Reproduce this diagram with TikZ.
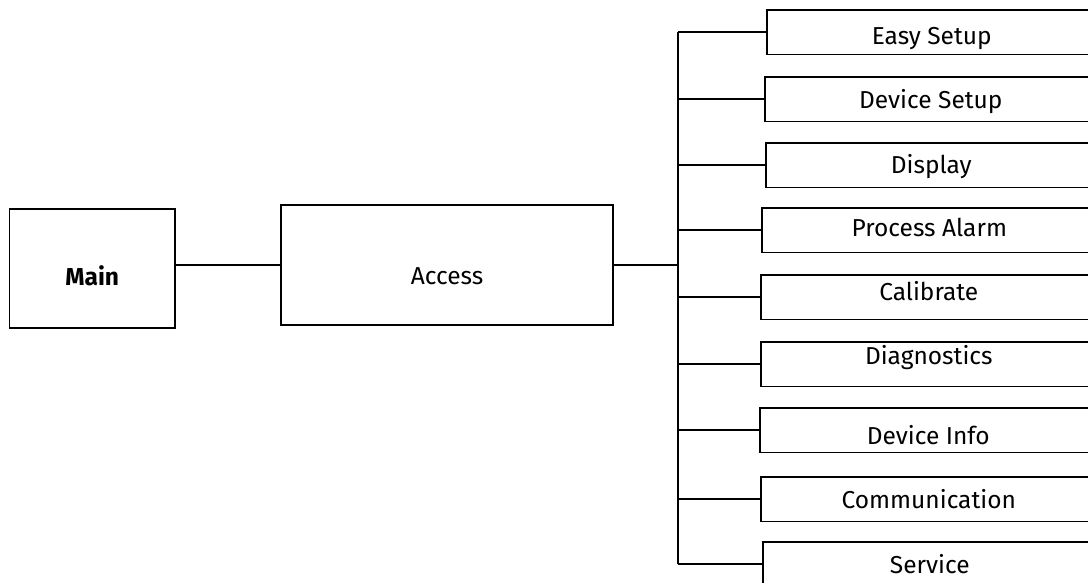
\documentclass[tikz,border=0pt]{standalone}
\usepackage{fontspec}
\setmainfont{Fira Sans}
\usetikzlibrary{calc}

\begin{document}
\begin{tikzpicture}[x=1pt, y=-1pt, line cap=butt, line join=miter]
  \tikzset{
    wire/.style={line width=1.6pt, draw=black},
    menubox/.style={draw=black, line width=1.6pt, inner sep=0pt, minimum height=44.5pt},
    bigbox/.style={draw=black, line width=1.6pt, inner sep=0pt},
    menutext/.style={inner sep=0pt, text height=16.9pt, text depth=0pt, font=\fontsize{24.5pt}{29pt}\selectfont}
  }

  % Frame of the page
  \useasboundingbox (0,0) rectangle (1088,582);
  \clip (0,0) rectangle (1088,582);

  % Main and Access
  \node[bigbox, minimum width=165.5pt, minimum height=119pt] (Main) at (92.25, 268.5) {};
  \node[menutext, font=\fontsize{24.5pt}{29pt}\selectfont\bfseries] (MainT) at ($(Main.center) + (0, 8.2)$) {Main};
  \node[bigbox, minimum width=332pt, minimum height=120pt] (Access) at (447, 265) {};
  \node[menutext] (AccessT) at ($(Access.center) + (0, 11.5)$) {Access};
  \draw[wire] (Access.west -| Main.east) -- (Access.west);

  % Sub menus (all boxes share a right edge past the page)
  \node[menubox, minimum width=330pt, anchor=west] (Easy) at (766, 32.25) {};
  \node[menutext] (EasyT) at ($(Easy.center) + (0, 3.75)$) {Easy Setup};

  \node[menubox, minimum width=332pt, anchor=west] (DevSetup) at (764, 99.25) {};
  \node[menutext] (DevSetupT) at ($(DevSetup.center) + (0, 1.25)$) {Device Setup};

  \node[menubox, minimum width=331pt, anchor=west] (Display) at (765, 165.25) {};
  \node[menutext] (DisplayT) at ($(Display.center) + (0, -0.5)$) {Display};

  \node[menubox, minimum width=335pt, anchor=west] (Alarm) at (761, 230.25) {};
  \node[menutext] (AlarmT) at ($(Alarm.center) + (0, -2)$) {Process Alarm};

  \node[menubox, minimum width=336pt, anchor=west] (Calib) at (760, 297.25) {};
  \node[menutext] (CalibT) at ($(Calib.center) + (0, -4.75)$) {Calibrate};

  \node[menubox, minimum width=336pt, anchor=west] (Diag) at (760, 364.25) {};
  \node[menutext] (DiagT) at ($(Diag.center) + (0, -7.75)$) {Diagnostics};

  \node[menubox, minimum width=337pt, anchor=west] (DevInfo) at (759, 430.25) {};
  \node[menutext] (DevInfoT) at ($(DevInfo.center) + (0, 5.75)$) {Device Info};

  \node[menubox, minimum width=336pt, anchor=west] (Comm) at (760, 499.25) {};
  \node[menutext] (CommT) at ($(Comm.center) + (0, 1.25)$) {Communication};

  \node[menubox, minimum width=334pt, anchor=west] (Service) at (762, 564.25) {};
  \node[menutext] (ServiceT) at ($(Service.center) + (0, 0.5)$) {Service};

  % Bus line
  \coordinate (busx) at (678, 0);
  \coordinate (busjoin) at (busx |- Access.east);
  \draw[wire] (Access.east) -- (busjoin);
  \draw[wire] (Easy.west -| busx) -- (Service.west -| busx);

  % Branches
  \draw[wire] (Easy.west -| busx) -- (Easy.west);
  \draw[wire] (DevSetup.west -| busx) -- (DevSetup.west);
  \draw[wire] (Display.west -| busx) -- (Display.west);
  \draw[wire] (Alarm.west -| busx) -- (Alarm.west);
  \draw[wire] (Calib.west -| busx) -- (Calib.west);
  \draw[wire] (Diag.west -| busx) -- (Diag.west);
  \draw[wire] (DevInfo.west -| busx) -- (DevInfo.west);
  \draw[wire] (Comm.west -| busx) -- (Comm.west);
  \draw[wire] (Service.west -| busx) -- (Service.west);

\end{tikzpicture}
\end{document}
